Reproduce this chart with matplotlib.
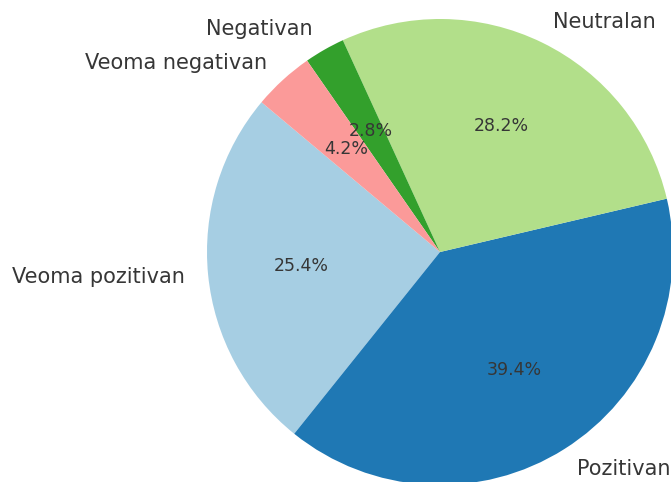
import matplotlib.pyplot as plt

labels = ["Veoma pozitivan", "Pozitivan", "Neutralan", "Negativan", "Veoma negativan"]
counts = [18, 28, 20, 2, 3]
colors = ["#a6cee3", "#1f78b4", "#b2df8a", "#33a02c", "#fb9a99"]

fig = plt.figure(figsize=(6.71, 4.82), dpi=100)
ax = fig.add_axes([207 / 671, -3 / 482, 466 / 671, 466 / 482])

wedges, texts, autotexts = ax.pie(
    counts, labels=labels, colors=colors, autopct="%1.1f%%",
    startangle=140, textprops={"color": "#363636"},
)
for t in texts:
    t.set_fontsize(15)
for t in autotexts:
    t.set_fontsize(12.5)

ax.set_xlim(-1, 1)
ax.set_ylim(-1, 1)
ax.set_aspect("equal")

fig.savefig("out.png", dpi=100)
